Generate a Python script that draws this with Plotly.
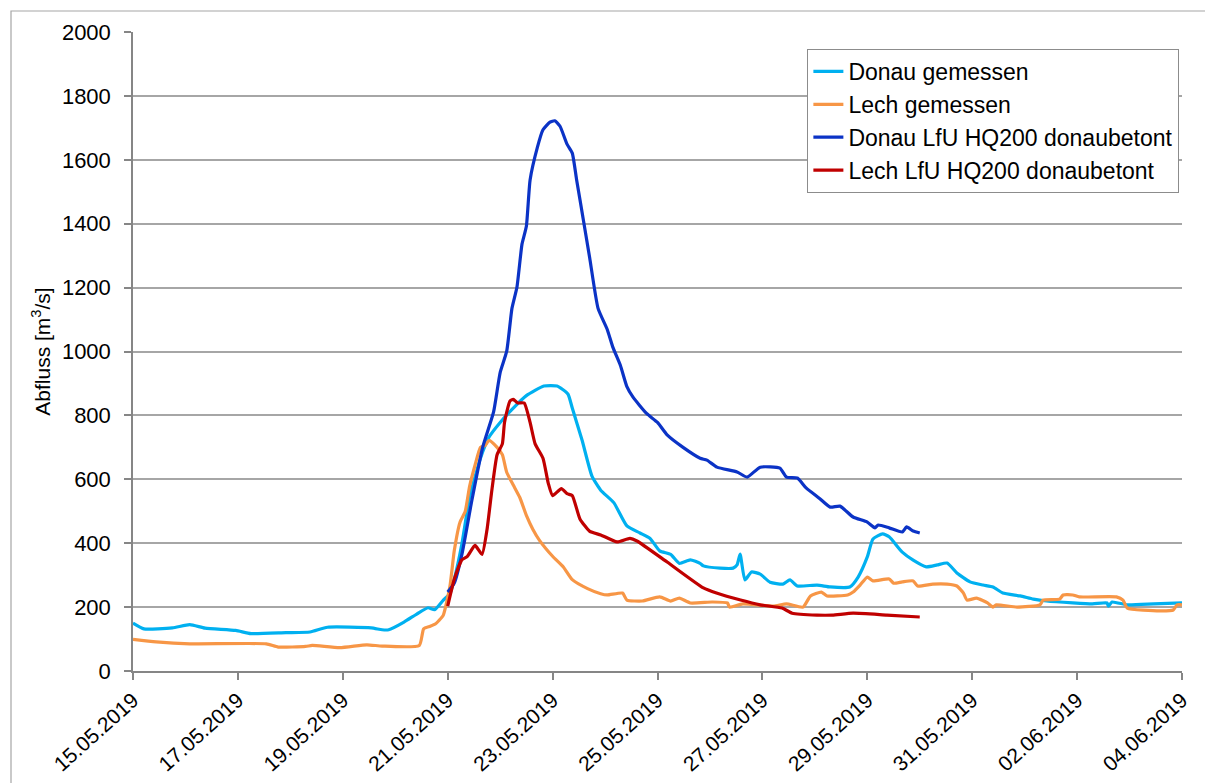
import pandas as pd
import plotly.graph_objects as go

# ---------------- data (hours since 15.05.2019 00:00, discharge in m3/s) ----------------
start_date = "2019-05-15"
tick_dates = ["2019-05-15", "2019-05-17", "2019-05-19", "2019-05-21", "2019-05-23", "2019-05-25",
              "2019-05-27", "2019-05-29", "2019-05-31", "2019-06-02", "2019-06-04"]
tick_labels = ["15.05.2019", "17.05.2019", "19.05.2019", "21.05.2019", "23.05.2019", "25.05.2019",
               "27.05.2019", "29.05.2019", "31.05.2019", "02.06.2019", "04.06.2019"]

donau_gem_h = [0, 5, 18, 26, 33, 47, 54, 70, 81, 89, 109, 114, 117, 124, 130, 135, 138, 142, 145, 147,
               150.5, 154, 159, 163, 168, 174, 180, 188, 194, 199, 201, 205.5, 210, 214, 220, 226, 232,
               236.6, 241, 246, 250, 255, 259.5, 261, 268.6, 274.6, 276.4, 277.8, 280, 283, 287, 291.5,
               297.4, 300.6, 304, 313, 319, 328, 331.8, 336, 338.6, 343, 346, 352, 357, 363, 368, 372.5,
               377, 383, 389, 393.5, 398, 406, 412, 418, 430, 439, 445.7, 446.3, 448, 455, 467, 480]
donau_gem_v = [150, 132, 135, 145, 134, 127, 117, 120, 122, 137, 135, 129, 129, 153, 179, 198, 192, 222, 242, 287,
               398, 543, 666, 733, 778, 823, 862, 892, 892, 867, 823, 722, 610, 566, 527, 454, 432,
               415, 376, 365, 337, 348, 337, 329, 322, 322, 332, 366, 285, 310, 303, 278,
               272, 285, 266, 269, 263, 263, 294, 357, 413, 429, 420, 372, 347, 326, 332, 338,
               307, 279, 269, 263, 244, 235, 225, 219, 213, 210, 213, 203, 216, 207, 210, 213]

lech_gem_h = [0, 10.6, 26, 61, 66.5, 79, 82, 94.6, 107, 114, 131, 133, 136, 138.5, 140, 142, 145, 147, 149.6, 152,
              154, 156.5, 159, 161, 163, 166.6, 169, 171, 174, 177, 180, 183, 186, 192, 197, 201, 208, 214, 217, 224,
              226, 233, 241, 246, 250, 255, 265, 272, 273, 279, 293, 299, 306.6, 310, 315, 317.6, 327, 329.5, 332.7, 336,
              338.6, 346, 348, 352, 357, 359, 366, 372.5, 377, 380, 381.6, 386, 391, 393.5, 395, 404.5, 415, 416.4, 424, 425.6,
              430, 433, 450, 453, 455, 470, 476, 477.7, 480]
lech_gem_v = [99, 91, 85, 85, 75, 77, 80, 73, 82, 78, 80, 132, 140, 148, 158, 175, 264, 376, 465, 499,
              577, 644, 700, 705, 722, 700, 677, 622, 582, 543, 487, 443, 409, 359, 325, 286, 258, 242, 238, 244,
              222, 219, 232, 219, 228, 213, 216, 213, 200, 210, 203, 210, 200, 235, 247, 235, 238, 247, 269, 294,
              282, 288, 275, 279, 282, 266, 272, 272, 266, 244, 222, 228, 213, 200, 207, 200, 207, 222, 225, 238,
              238, 232, 232, 222, 197, 188, 191, 207, 207]

donau_hq_h = [144, 147, 150.5, 155, 160, 165, 168, 171, 173.4, 175.7, 178, 180, 181.7, 185, 187.6, 190.8, 193, 195.4,
              198.6, 201, 203, 206, 209, 212.8, 217, 219.6, 223, 226, 228.8, 235, 240, 244.4, 251.7, 259.5, 262.6,
              267.2, 276.4, 281, 287, 296, 299, 304, 308, 314, 319, 323.5, 329.5, 336, 339.5, 341, 346, 352, 354, 357, 360]
donau_hq_v = [247, 275, 365, 532, 700, 811, 934, 1001, 1135, 1202, 1336, 1392, 1537, 1638, 1694, 1718, 1722, 1705,
              1649, 1621, 1537, 1415, 1292, 1135, 1069, 1013, 957, 890, 857, 806, 778, 739, 700, 666, 660,
              638, 623, 607, 638, 635, 607, 604, 573, 541, 513, 516, 482, 466, 448, 457, 448, 435, 451, 438, 432]

lech_hq_h = [144, 147, 150.5, 153, 156.5, 159.7, 162, 164, 166.6, 169, 170, 172.5, 174, 176, 179, 181.7, 184, 187.6,
             190, 192, 196, 198.6, 201, 204.5, 209, 214, 221.5, 227.4, 230.6, 244.4, 261, 267, 278, 287, 297,
             301.6, 313, 320, 329.5, 345, 360]
lech_hq_v = [203, 287, 348, 359, 393, 365, 443, 555, 677, 711, 778, 845, 850, 839, 839, 778, 711, 666,
             588, 549, 571, 555, 549, 476, 437, 426, 404, 415, 407, 341, 260, 244, 222, 207, 197,
             181, 175, 175, 181, 175, 169]

series_names = ["Donau gemessen", "Lech gemessen", "Donau LfU HQ200 donaubetont", "Lech LfU HQ200 donaubetont"]
series_colors = ["#00B0F0", "#F79646", "#0B33C6", "#C00000"]

# ---------------- figure ----------------
base = pd.Timestamp(start_date)


def to_time(hours):
    return [base + pd.Timedelta(hours=h) for h in hours]


FONT = "Liberation Sans, Arial, sans-serif"

fig = go.Figure()
for name, color, hh, vv in zip(series_names, series_colors,
                               [donau_gem_h, lech_gem_h, donau_hq_h, lech_hq_h],
                               [donau_gem_v, lech_gem_v, donau_hq_v, lech_hq_v]):
    fig.add_trace(go.Scatter(x=to_time(hh), y=vv, mode="lines", name=name,
                             line=dict(color=color, width=3.2, shape="spline", smoothing=0.5)))

fig.update_layout(
    width=1205, height=783,
    margin=dict(l=133, r=23, t=32, b=112),
    paper_bgcolor="white", plot_bgcolor="white",
    font=dict(family=FONT, size=21, color="black"),
    showlegend=True,
    legend=dict(x=0.9975, xanchor="right", y=0.9735, yanchor="top",
                bgcolor="white", bordercolor="#8C8C8C", borderwidth=1,
                font=dict(family=FONT, size=23, color="black"),
                itemwidth=30, tracegroupgap=0),
    shapes=[dict(type="rect", xref="paper", yref="paper",
                 x0=(11 - 133) / 1049, x1=1.03, y0=-0.2, y1=(671 - 11) / 639,
                 line=dict(color="#A6A6A6", width=1.2), fillcolor="rgba(0,0,0,0)", layer="below")],
)

fig.update_xaxes(
    type="date", range=[tick_dates[0], tick_dates[-1]], automargin=False,
    tickmode="array", tickvals=tick_dates, ticktext=tick_labels,
    tickangle=-42, tickfont=dict(family=FONT, size=21, color="black"),
    showline=True, linecolor="#868686", linewidth=1.5,
    ticks="outside", ticklen=7, tickcolor="#868686", tickwidth=1.5,
    ticklabelstandoff=0,
    showgrid=False, zeroline=False,
)
fig.update_yaxes(
    range=[0, 2000], tickmode="linear", tick0=0, dtick=200, automargin=False,
    tickfont=dict(family=FONT, size=22, color="black"),
    showline=True, linecolor="#868686", linewidth=1.5,
    ticks="outside", ticklen=7, tickcolor="#868686", tickwidth=1.5,
    ticklabelstandoff=9,
    showgrid=True, gridcolor="#A6A6A6", gridwidth=1.5, zeroline=False,
    title=dict(text="Abfluss [m<sup>3</sup>/s]", font=dict(family=FONT, size=21, color="black"), standoff=6),
)

fig.write_html("out.html")
